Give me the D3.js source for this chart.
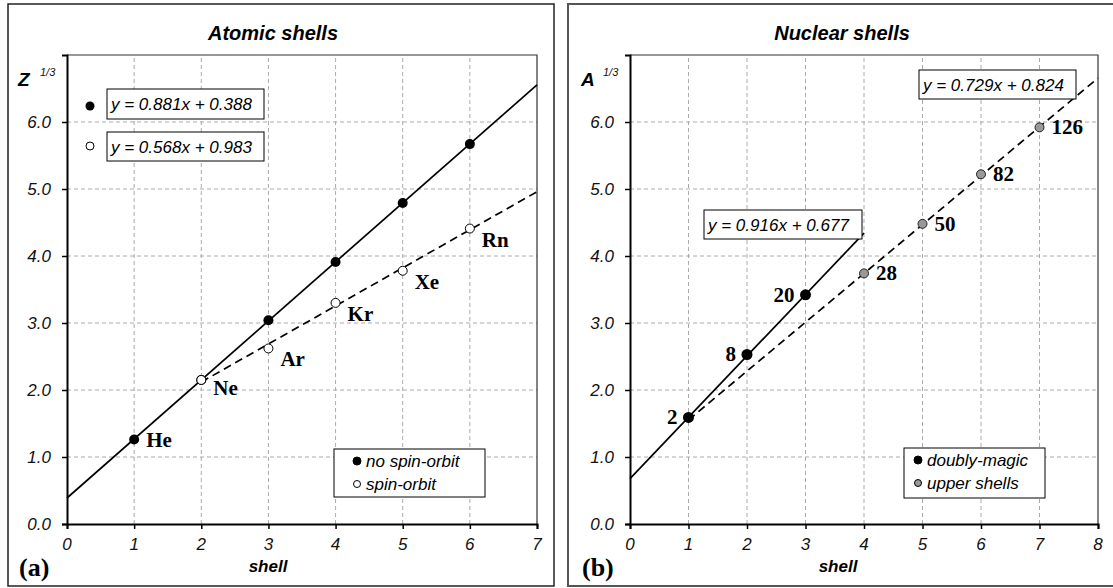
<!DOCTYPE html>
<html>
<head>
<meta charset="utf-8">
<title>Atomic and nuclear shells</title>
<script src="https://cdn.jsdelivr.net/npm/d3@7"></script>
<style>
  body { margin: 0; background: #fff; }
  .grid line { stroke: #aaa; stroke-width: 1; stroke-dasharray: 4,3; }
  .tick-label { font-family: "Liberation Sans", Arial, sans-serif; font-style: italic; font-size: 17px; fill: #111; }
  .title { font-family: "Liberation Sans", Arial, sans-serif; font-style: italic; font-weight: bold; font-size: 20px; }
  .axis-name { font-family: "Liberation Sans", Arial, sans-serif; font-style: italic; font-weight: bold; }
  .eq { font-family: "Liberation Sans", Arial, sans-serif; font-style: italic; font-size: 17px; }
  .pt-label { font-family: "Liberation Serif", "Times New Roman", serif; font-weight: bold; font-size: 21px; }
  .panel-tag { font-family: "Liberation Serif", "Times New Roman", serif; font-weight: bold; font-size: 26px; }
</style>
</head>
<body>
<svg id="chart" width="1113" height="588"></svg>
<script>
// ---- data ----
// atomic shells, Z^(1/3)
var atomShells = [1, 2, 3, 4, 5, 6];
var atomNoSO = [1.26, 2.15, 3.04, 3.91, 4.79, 5.67];
var atomSOShells = [2, 3, 4, 5, 6];
var atomSO = [2.15, 2.62, 3.30, 3.78, 4.41];
var atomSONames = ['Ne', 'Ar', 'Kr', 'Xe', 'Rn'];
var atomNoSONames = ['He'];
var atomFitSlope = [0.881, 0.568];
var atomFitIntercept = [0.388, 0.983];
var atomFitFrom = [0, 2];
var atomFitTo = [7, 7];

// nuclear shells, A^(1/3)
var nucMagicShells = [1, 2, 3];
var nucMagic = [1.59, 2.53, 3.42];
var nucMagicNames = ['2', '8', '20'];
var nucUpperShells = [4, 5, 6, 7];
var nucUpper = [3.74, 4.48, 5.22, 5.92];
var nucUpperNames = ['28', '50', '82', '126'];
var nucFitSlope = [0.916, 0.729];
var nucFitIntercept = [0.677, 0.824];
var nucFitFrom = [0, 1];
var nucFitTo = [4, 8];

var yTicks = [0, 1, 2, 3, 4, 5, 6];
var yFmt = d3.format('.1f');

var svg = d3.select('#chart');

// outer frames
svg.append('rect').attr('x', 8).attr('y', 4).attr('width', 546).attr('height', 582)
  .attr('fill', 'none').attr('stroke', '#222').attr('stroke-width', 1.5);
svg.append('rect').attr('x', 568).attr('y', 4).attr('width', 560).attr('height', 582)
  .attr('fill', 'none').attr('stroke', '#555').attr('stroke-width', 2);

function drawPanel(p) {
  var x = d3.scaleLinear().domain([0, p.xmax]).range(p.xr);
  var y = d3.scaleLinear().domain([0, 7]).range([524, 55]);
  var g = svg.append('g');

  // grid
  var grid = g.append('g').attr('class', 'grid');
  grid.selectAll('.gx').data(d3.range(1, p.xmax)).enter().append('line')
    .attr('x1', d => x(d)).attr('x2', d => x(d)).attr('y1', y(0)).attr('y2', y(7));
  grid.selectAll('.gy').data(yTicks.slice(1)).enter().append('line')
    .attr('x1', x(0)).attr('x2', x(p.xmax)).attr('y1', d => y(d)).attr('y2', d => y(d));

  // top / right border
  g.append('path')
    .attr('d', 'M' + x(0) + ',' + y(7) + 'H' + x(p.xmax) + 'V' + y(0))
    .attr('fill', 'none').attr('stroke', '#333').attr('stroke-width', 1.2);

  // axes
  var xAxis = g.append('g').attr('transform', 'translate(0,' + y(0) + ')')
    .call(d3.axisBottom(x).ticks(p.xmax).tickSize(5).tickFormat(''));
  var yAxis = g.append('g').attr('transform', 'translate(' + x(0) + ',0)')
    .call(d3.axisLeft(y).tickValues(yTicks).tickSize(5).tickFormat(''));
  [xAxis, yAxis].forEach(function (a) {
    a.select('.domain').attr('stroke', '#000').attr('stroke-width', 2);
    a.selectAll('.tick line').attr('stroke', '#000').attr('stroke-width', 1.5);
  });
  g.selectAll('.xt').data(d3.range(0, p.xmax + 1)).enter().append('text')
    .attr('class', 'tick-label').attr('text-anchor', 'middle')
    .attr('x', d => x(d)).attr('y', y(0) + 26).text(d => d);
  g.selectAll('.yt').data(yTicks).enter().append('text')
    .attr('class', 'tick-label').attr('text-anchor', 'end')
    .attr('x', x(0) - 16).attr('y', d => y(d) + 6).text(yFmt);

  // titles
  g.append('text').attr('class', 'title').attr('text-anchor', 'middle')
    .attr('x', p.titleX).attr('y', 40).text(p.title);
  g.append('text').attr('class', 'axis-name').attr('text-anchor', 'middle')
    .attr('x', p.shellX).attr('y', 572).style('font-size', '17px').text('shell');
  g.append('text').attr('class', 'axis-name')
    .attr('x', x(0) - 49).attr('y', 86).style('font-size', '19px').text(p.yName);
  g.append('text').attr('class', 'tick-label').style('font-size', '11px')
    .attr('x', x(0) - 27).attr('y', 76).text('1/3');
  g.append('text').attr('class', 'panel-tag')
    .attr('x', x(0) - 48).attr('y', 576).text(p.tag);

  // fit lines
  p.fitSlope.forEach(function (m, i) {
    var b = p.fitIntercept[i];
    g.append('line')
      .attr('x1', x(p.fitFrom[i])).attr('y1', y(m * p.fitFrom[i] + b))
      .attr('x2', x(p.fitTo[i])).attr('y2', y(m * p.fitTo[i] + b))
      .attr('stroke', '#000').attr('stroke-width', 1.7)
      .attr('stroke-dasharray', i === 1 ? '8,5' : null);
  });

  return { g: g, x: x, y: y };
}

function eqBox(g, x0, y0, w, h, label) {
  g.append('rect').attr('x', x0).attr('y', y0).attr('width', w).attr('height', h)
    .attr('fill', '#fff').attr('stroke', '#000').attr('stroke-width', 1);
  g.append('text').attr('class', 'eq').attr('x', x0 + 4).attr('y', y0 + h / 2 + 6).text(label);
}

function legend(g, x0, y0, w, h, dotDx, items) {
  g.append('rect').attr('x', x0).attr('y', y0).attr('width', w).attr('height', h)
    .attr('fill', '#fff').attr('stroke', '#000').attr('stroke-width', 1);
  items.forEach(function (it, i) {
    var cy = y0 + 12 + i * 23;
    g.append('circle').attr('cx', x0 + dotDx).attr('cy', cy).attr('r', it.r)
      .attr('fill', it.fill).attr('stroke', '#000').attr('stroke-width', 1);
    g.append('text').attr('class', 'eq').attr('x', x0 + dotDx + 9).attr('y', cy + 6).text(it.text);
  });
}

// ---- (a) atomic shells ----
var a = drawPanel({
  xmax: 7, xr: [67, 537], title: 'Atomic shells', titleX: 273, shellX: 268,
  yName: 'Z', tag: '(a)',
  fitSlope: atomFitSlope, fitIntercept: atomFitIntercept, fitFrom: atomFitFrom, fitTo: atomFitTo
});

a.g.selectAll('.nso').data(atomShells).enter().append('circle')
  .attr('cx', d => a.x(d)).attr('cy', (d, i) => a.y(atomNoSO[i])).attr('r', 5).attr('fill', '#000');
a.g.selectAll('.so').data(atomSOShells).enter().append('circle')
  .attr('cx', d => a.x(d)).attr('cy', (d, i) => a.y(atomSO[i])).attr('r', 4.5)
  .attr('fill', '#fff').attr('stroke', '#000').attr('stroke-width', 1);
a.g.selectAll('.nsol').data(atomNoSONames).enter().append('text').attr('class', 'pt-label')
  .attr('x', (d, i) => a.x(atomShells[i]) + 12).attr('y', (d, i) => a.y(atomNoSO[i]) + 7).text(d => d);
a.g.selectAll('.sol').data(atomSONames).enter().append('text').attr('class', 'pt-label')
  .attr('x', (d, i) => a.x(atomSOShells[i]) + 12)
  .attr('y', (d, i) => a.y(atomSO[i]) + (i === 0 ? 15 : 18)).text(d => d);

eqBox(a.g, 107, 89, 157, 30, 'y = ' + atomFitSlope[0] + 'x + ' + atomFitIntercept[0]);
eqBox(a.g, 107, 132, 157, 29, 'y = ' + atomFitSlope[1] + 'x + ' + atomFitIntercept[1]);
a.g.append('circle').attr('cx', 90).attr('cy', 106).attr('r', 4.5).attr('fill', '#000');
a.g.append('circle').attr('cx', 90).attr('cy', 146).attr('r', 4)
  .attr('fill', '#fff').attr('stroke', '#000').attr('stroke-width', 1);
legend(a.g, 334, 449, 151, 48, 23, [
  { text: 'no spin-orbit', fill: '#000', r: 4 },
  { text: 'spin-orbit', fill: '#fff', r: 3.5 }
]);

// ---- (b) nuclear shells ----
var b = drawPanel({
  xmax: 8, xr: [630, 1098], title: 'Nuclear shells', titleX: 842, shellX: 838,
  yName: 'A', tag: '(b)',
  fitSlope: nucFitSlope, fitIntercept: nucFitIntercept, fitFrom: nucFitFrom, fitTo: nucFitTo
});

b.g.selectAll('.mag').data(nucMagicShells).enter().append('circle')
  .attr('cx', d => b.x(d)).attr('cy', (d, i) => b.y(nucMagic[i])).attr('r', 5.5).attr('fill', '#000');
b.g.selectAll('.up').data(nucUpperShells).enter().append('circle')
  .attr('cx', d => b.x(d)).attr('cy', (d, i) => b.y(nucUpper[i])).attr('r', 4.5)
  .attr('fill', '#999').attr('stroke', '#222').attr('stroke-width', 1);
b.g.selectAll('.magl').data(nucMagicNames).enter().append('text').attr('class', 'pt-label')
  .attr('text-anchor', 'end')
  .attr('x', (d, i) => b.x(nucMagicShells[i]) - 11).attr('y', (d, i) => b.y(nucMagic[i]) + 7).text(d => d);
b.g.selectAll('.upl').data(nucUpperNames).enter().append('text').attr('class', 'pt-label')
  .attr('x', (d, i) => b.x(nucUpperShells[i]) + 12).attr('y', (d, i) => b.y(nucUpper[i]) + 7).text(d => d);

eqBox(b.g, 919, 70, 157, 29, 'y = ' + nucFitSlope[1] + 'x + ' + nucFitIntercept[1]);
eqBox(b.g, 704, 210, 158, 29, 'y = ' + nucFitSlope[0] + 'x + ' + nucFitIntercept[0]);
legend(b.g, 904, 448, 141, 50, 14, [
  { text: 'doubly-magic', fill: '#000', r: 4 },
  { text: 'upper shells', fill: '#999', r: 3.5 }
]);
</script>
</body>
</html>
